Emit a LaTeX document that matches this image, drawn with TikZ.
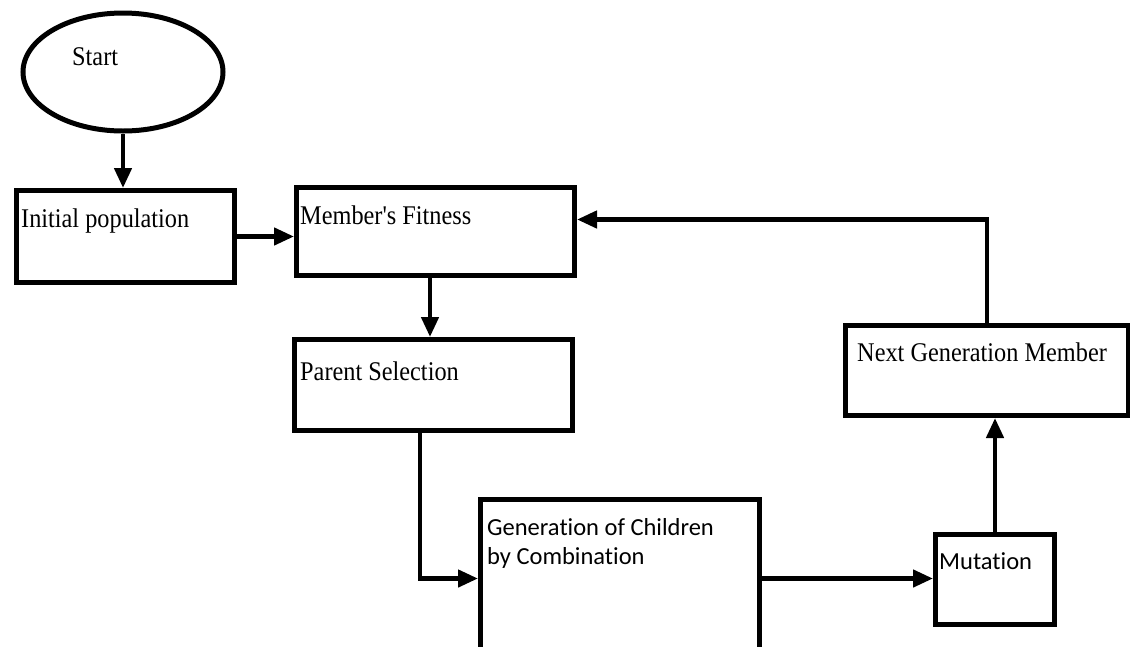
\documentclass[tikz,border=0pt]{standalone}
\usepackage{fontspec}
\setmainfont{Liberation Serif}
\newfontfamily\calibrifont[Ligatures=NoCommon]{Carlito}
\usetikzlibrary{arrows.meta,shapes.geometric}

\newcommand{\narrow}[1]{\scalebox{0.9}[1]{#1}}

\tikzset{
  box/.style={draw, line width=5pt, anchor=north west, inner sep=0pt},
  oval/.style={draw, ellipse, line width=5pt, inner sep=0pt},
  serif/.style={anchor=base west, inner sep=0pt, font=\fontsize{27}{32}\selectfont},
  sans/.style={anchor=base west, inner sep=0pt, font=\calibrifont\fontsize{24.5}{29}\selectfont},
  arr/.style={line width=4.5pt, -{Triangle[length=20pt,width=17pt]}}
}

\begin{document}
\begin{tikzpicture}[x=1pt, y=-1pt]
\useasboundingbox (0,0) rectangle (1130,646);

% shapes
\node[oval, minimum width=200pt, minimum height=118pt] (start) at (123,72) {};
\node[box, minimum width=218pt, minimum height=92pt] (init) at (14,188) {};
\node[box, minimum width=278pt, minimum height=88pt] (fit) at (294,185) {};
\node[box, minimum width=278pt, minimum height=91pt] (parent) at (292,337) {};
\node[box, minimum width=279pt, minimum height=158pt] (gen) at (478,497) {};
\node[box, minimum width=119pt, minimum height=90pt] (mut) at (933,532) {};
\node[box, minimum width=283pt, minimum height=90pt] (next) at (843,323) {};

% labels
\node[serif] (tstart) at (72,65) {\narrow{Start}};
\node[serif] (tinit) at (21,227) {\narrow{Initial population}};
\node[serif] (tfit) at (300,224) {\narrow{Member\textquotesingle s Fitness}};
\node[serif] (tparent) at (300,380) {\narrow{Parent Selection}};
\node[serif] (tnext) at (857,361) {\narrow{Next Generation Member}};
\node[sans] (tgen1) at (487,535) {Generation of Children};
\node[sans] (tgen2) at (487,564) {by Combination};
\node[sans] (tmut) at (939,569) {Mutation};

% connectors
\draw[arr] (start.south) -- (start.south |- init.north);
\draw[arr] (init.east) -- (init.east -| fit.west);
\draw[arr] ([xshift=136pt]fit.south west) -- ([xshift=136pt]fit.south west |- parent.north);
\draw[arr] ([xshift=128pt]parent.south west) |- (gen.west);
\draw[arr] (gen.east) -- (gen.east -| mut.west);
\draw[arr] (mut.north) -- (mut.north |- next.south);
\draw[arr] ([xshift=144pt]next.north west) |- ([yshift=12pt]fit.east);
\end{tikzpicture}
\end{document}
